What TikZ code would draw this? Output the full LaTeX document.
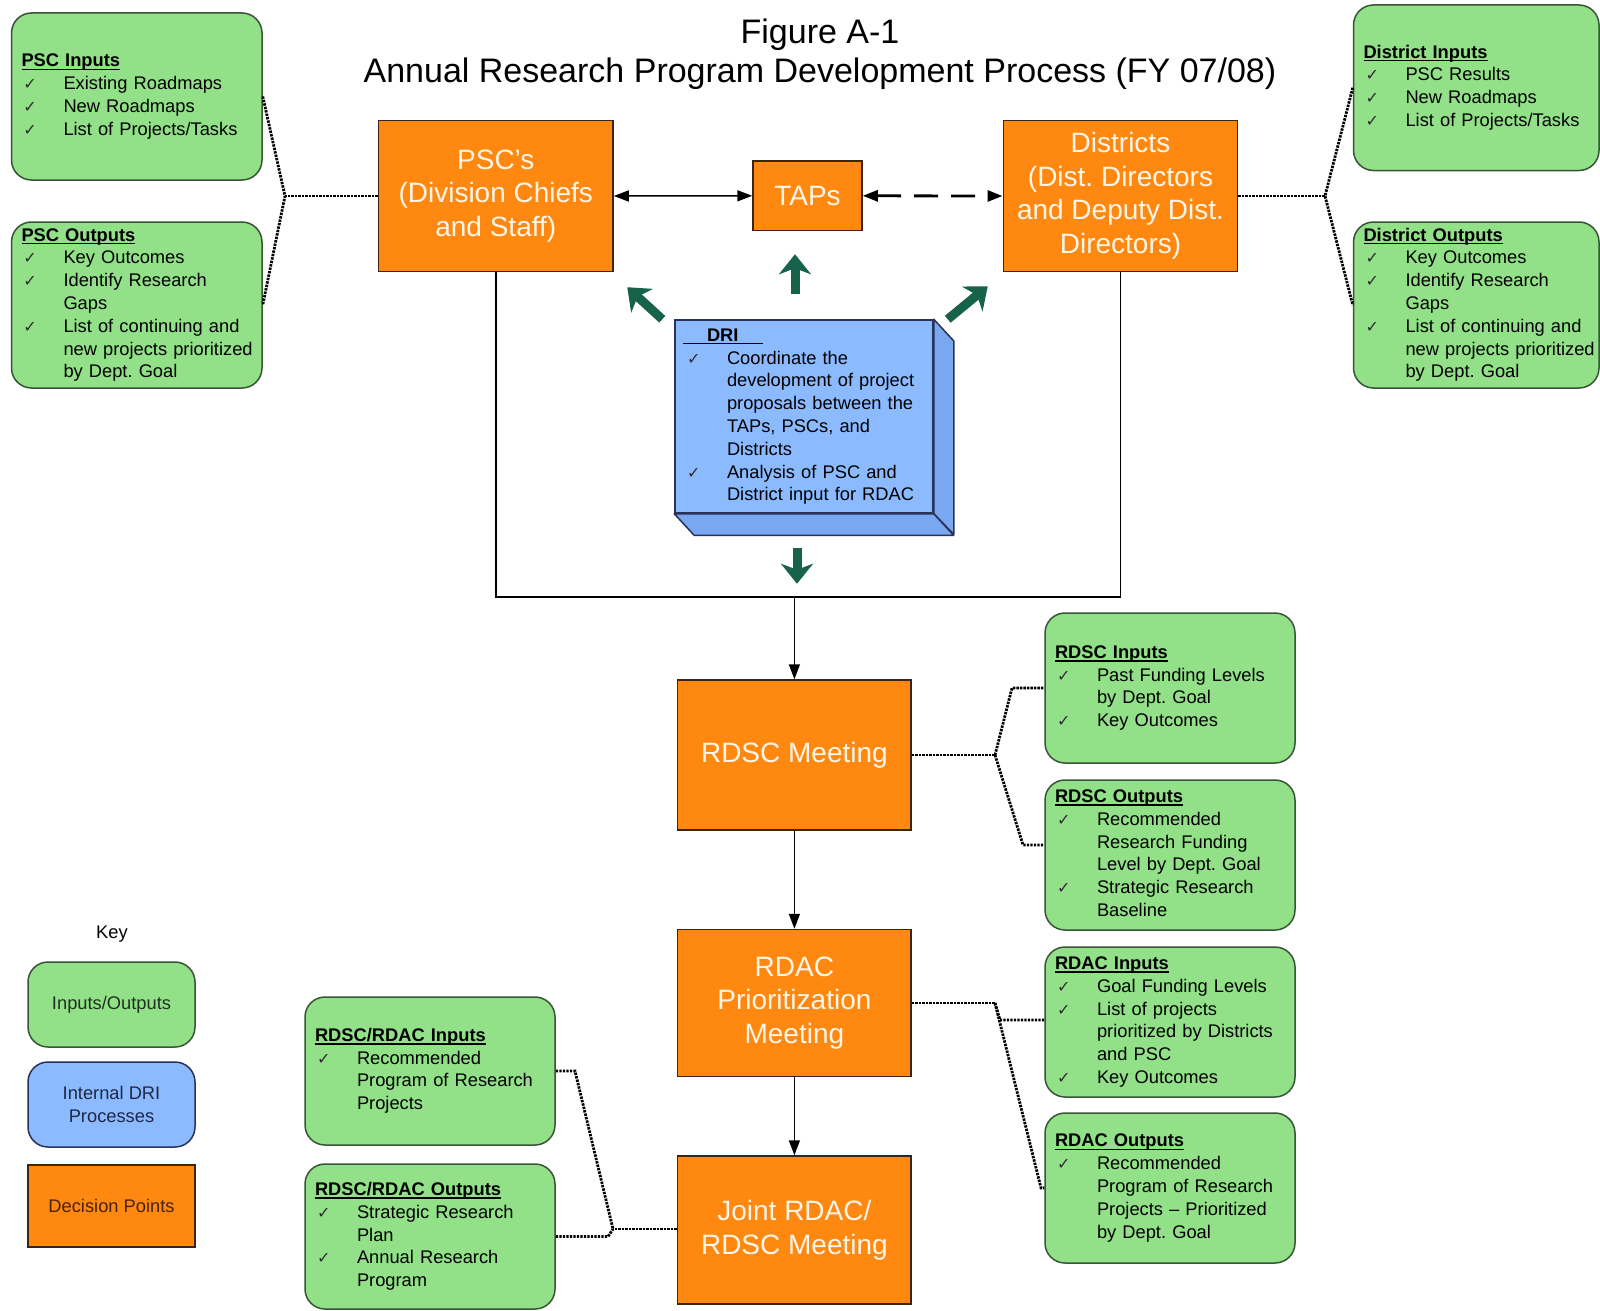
\documentclass[tikz,border=0pt]{standalone}
\usepackage{fontspec}
\setmainfont{Liberation Sans}
\newfontfamily\symfont{DejaVu Sans}
\usetikzlibrary{arrows.meta,calc}
\frenchspacing

% palette
\definecolor{orangefill}{RGB}{255,136,17}
\definecolor{orangeline}{RGB}{60,35,20}
\definecolor{orangetext}{RGB}{255,246,232}
\definecolor{greenfill}{RGB}{146,224,136}
\definecolor{greenline}{RGB}{55,85,55}
\definecolor{bluefill}{RGB}{140,186,255}
\definecolor{blueside}{RGB}{122,168,240}
\definecolor{blueline}{RGB}{40,50,90}
\definecolor{arrowgreen}{RGB}{22,98,74}
\definecolor{ckgray}{RGB}{45,45,45}

% type sizes
\newcommand\iofont{\fontsize{9.15}{11.4}\selectfont}
\newcommand\decfont{\fontsize{14}{16.75}\selectfont}
\newcommand\titlefont{\fontsize{17}{19.4}\selectfont}

% check marks and underlined headings
\newcommand\ckmk{{\symfont\fontsize{8}{8}\selectfont\color{ckgray}✓}}
\newcommand\ck{\makebox[21pt][l]{\hspace{1pt}\ckmk}}
\newcommand\drick{\makebox[22pt][l]{\hspace{2pt}\ckmk}}
\newsavebox\hdrbox
\newcommand\hdr[1]{\sbox\hdrbox{\bfseries #1}\rlap{\rule[-1.6pt]{\wd\hdrbox}{0.65pt}}\usebox\hdrbox}
\newcommand\iolist[1]{\begin{tabular}{@{}l@{}l@{}}#1\end{tabular}}
\newcommand\head[1]{\multicolumn{2}{@{}l@{}}{\hdr{#1}}}

\begin{document}
\begin{tikzpicture}[x=0.5pt,y=-0.5pt,
  >={Triangle[length=7.5pt,width=5.5pt]},
  decision/.style={draw=orangeline, fill=orangefill, line width=0.75pt,
    text=orangetext, font=\decfont, align=center, inner sep=0pt},
  iobox/.style={draw=greenline, fill=greenfill, line width=0.75pt,
    rounded corners=10pt, inner xsep=5pt, inner ysep=0pt,
    align=left, font=\iofont, text=black},
  keybox/.style={line width=0.75pt, minimum width=83.5pt, minimum height=42.5pt,
    font=\iofont, align=center, inner sep=0pt},
  conn/.style={draw=black, line width=0.75pt},
  dashconn/.style={draw=black, line width=1.4pt, dash pattern=on 12pt off 6.5pt},
  dotconn/.style={draw=black, line width=1.4pt, dash pattern=on 1.2pt off 0.55pt},
  garrow/.style={draw=arrowgreen, line width=4.5pt,
    -{Stealth[length=10pt,width=16pt,inset=3pt]}}
]
\useasboundingbox (0,0) rectangle (1600,1311);
\fill[white] (0,0) rectangle (1600,1311);

% heading
\node[font=\titlefont, align=center] (title) at (820,54)
  {Figure A-1\\Annual Research Program Development Process (FY 07/08)};

% decision points
\node[decision, minimum width=117.2pt, minimum height=75.5pt] (psc) at (495.8,196)
  {PSC's\\(Division Chiefs\\and Staff)};
\node[decision, minimum width=54.5pt, minimum height=34.8pt] (taps) at (807.5,195.8) {TAPs};
\node[decision, minimum width=117.2pt, minimum height=75.5pt] (dist) at (1120.5,196)
  {Districts\\(Dist. Directors\\and Deputy Dist.\\Directors)};
\node[decision, minimum width=116.8pt, minimum height=75pt] (rdsc) at (794.4,755) {RDSC Meeting};
\node[decision, minimum width=116.8pt, minimum height=73.5pt] (rdac) at (794.4,1003)
  {RDAC\\Prioritization\\Meeting};
\node[decision, minimum width=116.8pt, minimum height=74pt] (joint) at (794.4,1230)
  {Joint RDAC/\\RDSC Meeting};

% inputs and outputs
\node[iobox, text width=115.25pt, minimum height=83.5pt] (pscin) at (136.75,96.5) {\iolist{%
  \head{PSC Inputs}\\
  \ck & Existing Roadmaps\\
  \ck & New Roadmaps\\
  \ck & List of Projects/Tasks}};
\node[iobox, text width=115.25pt, minimum height=83pt] (pscout) at (136.75,305) {\iolist{%
  \head{PSC Outputs}\\
  \ck & Key Outcomes\\
  \ck & Identify Research\\
      & Gaps\\
  \ck & List of continuing and\\
      & new projects prioritized\\
      & by Dept. Goal}};
\node[iobox, text width=112.75pt, minimum height=82.75pt] (distin) at (1476.25,87.75) {\iolist{%
  \head{District Inputs}\\
  \ck & PSC Results\\
  \ck & New Roadmaps\\
  \ck & List of Projects/Tasks}};
\node[iobox, text width=112.75pt, minimum height=83pt] (distout) at (1476.25,305) {\iolist{%
  \head{District Outputs}\\
  \ck & Key Outcomes\\
  \ck & Identify Research\\
      & Gaps\\
  \ck & List of continuing and\\
      & new projects prioritized\\
      & by Dept. Goal}};
\node[iobox, text width=115pt, minimum height=75pt] (rdscin) at (1170,688) {\iolist{%
  \head{RDSC Inputs}\\
  \ck & Past Funding Levels\\
      & by Dept. Goal\\
  \ck & Key Outcomes}};
\node[iobox, text width=115pt, minimum height=75pt] (rdscout) at (1170,855) {\iolist{%
  \head{RDSC Outputs}\\
  \ck & Recommended\\
      & Research Funding\\
      & Level by Dept. Goal\\
  \ck & Strategic Research\\
      & Baseline}};
\node[iobox, text width=115pt, minimum height=75pt] (rdacin) at (1170,1022) {\iolist{%
  \head{RDAC Inputs}\\
  \ck & Goal Funding Levels\\
  \ck & List of projects\\
      & prioritized by Districts\\
      & and PSC\\
  \ck & Key Outcomes}};
\node[iobox, text width=115pt, minimum height=75pt] (rdacout) at (1170,1188) {\iolist{%
  \head{RDAC Outputs}\\
  \ck & Recommended\\
      & Program of Research\\
      & Projects -- Prioritized\\
      & by Dept. Goal}};
\node[iobox, text width=115pt, minimum height=74pt] (jin) at (430,1071) {\iolist{%
  \head{RDSC/RDAC Inputs}\\
  \ck & Recommended\\
      & Program of Research\\
      & Projects}};
\node[iobox, text width=115pt, minimum height=72.5pt] (jout) at (430,1236.5) {\iolist{%
  \head{RDSC/RDAC Outputs}\\
  \ck & Strategic Research\\
      & Plan\\
  \ck & Annual Research\\
      & Program}};

% internal DRI process block (front face, then the two depth faces)
\node[draw=blueline, fill=bluefill, line width=0.75pt, minimum width=129pt,
  minimum height=96.5pt, text width=121pt, inner xsep=4pt, inner ysep=0pt,
  align=left, font=\iofont] (dri) at (804,416.5) {\iolist{%
  \head{\hspace{12pt}DRI\hspace{12pt}}\\
  \drick & Coordinate the\\
         & development of project\\
         & proposals between the\\
         & TAPs, PSCs, and\\
         & Districts\\
  \drick & Analysis of PSC and\\
         & District input for RDAC}};
\filldraw[fill=blueside, draw=blueline, line width=0.75pt, line join=round]
  (dri.north east) -- ++(20,21.7) -- ++(0,193.3) -- (dri.south east) -- cycle;
\filldraw[fill=blueside, draw=blueline, line width=0.75pt, line join=round]
  (dri.south west) -- (dri.south east) -- ++(20,21.7) -- ($(dri.south west)+(20,21.7)$) -- cycle;

% DRI feeds the three groups and the merged flow
\coordinate (gaL) at ($(dri.north west)+(-12,0)$);
\coordinate (gaU) at ($(dri.north)+(-9,-25)$);
\coordinate (gaR) at ($(dri.north east)+(14,0)$);
\coordinate (gaD) at ($(dri.south)+(-7,34)$);
\draw[garrow] (gaL) -- ++(-35,-32);
\draw[garrow] (gaU) -- ++(0,-40);
\draw[garrow] (gaR) -- ++(40,-33);
\draw[garrow] (gaD) -- ++(0,36);

% main flow
\draw[conn,<->] (psc.east) -- (taps.west);
\draw[dashconn,<->] (taps.east) -- (dist.west);
\coordinate (merge) at (rdsc.north |- 0,597);
\draw[conn] (psc.south) |- (merge) -| (dist.south);
\draw[conn,->] (merge) -- (rdsc.north);
\draw[conn,->] (rdsc.south) -- (rdac.north);
\draw[conn,->] (rdac.south) -- (joint.north);

% input/output brackets
\coordinate (pj) at (285,196);
\draw[dotconn] (psc.west) -- (pj);
\draw[dotconn] (pscin.east) -- (pj) -- (pscout.east);

\coordinate (dj) at (1325,196);
\draw[dotconn] (dist.east) -- (dj);
\draw[dotconn] (distin.west) -- (dj) -- (distout.west);

\coordinate (rj) at (995,755);
\draw[dotconn] (rdsc.east) -- (rj);
\draw[dotconn] (rj) -- (1012,688) -- (rdscin.west);
\draw[dotconn] (rj) -- (1023,845) -- ($(rdscout.west)+(0,-10)$);

\coordinate (aj) at (995,1003);
\draw[dotconn] (rdac.east) -- (aj);
\draw[dotconn] (aj) -- (1000,1020) -- ($(rdacin.west)+(0,-2)$);
\draw[dotconn] (aj) -- (1041,1188) -- (rdacout.west);

\coordinate (jj) at (613,1229);
\draw[dotconn] (joint.west |- jj) -- (jj);
\draw[dotconn] (jin.east) -- (575,1071) -- (jj);
\draw[dotconn] (jout.east) -- (608,1236.5) -- (jj);

% key
\node[font=\iofont] (keylbl) at (112,934) {Key};
\node[keybox, draw=greenline, fill=greenfill, rounded corners=10pt,
  text={rgb,255:red,30;green,50;blue,30}] (keyio) at (111.5,1004.5) {Inputs/Outputs};
\node[keybox, draw=blueline, fill=bluefill, rounded corners=10pt,
  text={rgb,255:red,30;green,40;blue,70}] (keydri) at (111.5,1104.5) {Internal DRI\\Processes};
\node[keybox, draw=orangeline, fill=orangefill, minimum height=41pt,
  text={rgb,255:red,70;green,35;blue,10}] (keydp) at (111.5,1206) {Decision Points};
\end{tikzpicture}
\end{document}
